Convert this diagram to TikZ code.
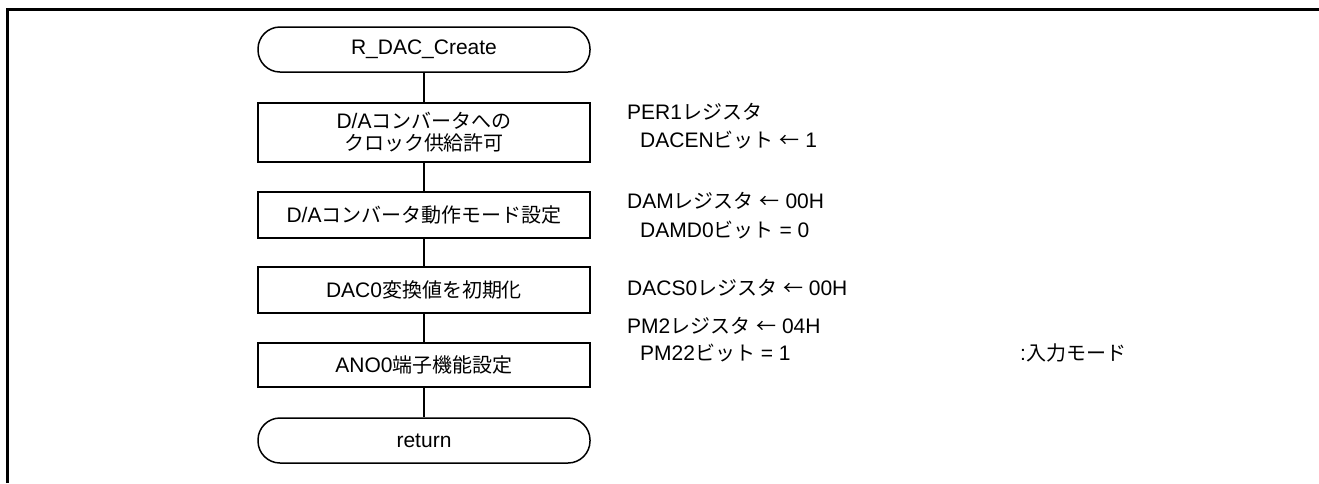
\documentclass[tikz,border=0pt]{standalone}
\usepackage{fontspec}
\setmainfont{Liberation Sans}
\newfontfamily\jpfont[Scale=0.952]{Noto Sans CJK JP}
\newcommand\J[1]{{\jpfont #1}}
\begin{document}
\begin{tikzpicture}[x=1pt,y=-1pt,
  proc/.style={draw, line width=1.5pt, minimum width=332pt, inner sep=0pt, align=center, font=\fontsize{21}{22}\selectfont},
  term/.style={proc, rounded corners=22pt},
  note/.style={anchor=base west, inner sep=0pt, font=\fontsize{21}{24}\selectfont},
  link/.style={line width=1.2pt},
  frame/.style={line width=3pt}]
\useasboundingbox (0,0) rectangle (1319,483);
\draw[frame] (7,483) -- (7,9) -- (1319,9);

\node[term, minimum height=45pt] (start) at (424,49.5) {R\_DAC\_Create};
\node[proc, minimum height=59pt] (p1) at (424,132.5) {D/A\J{コンバータへの}\\\J{クロック供給許可}};
\node[proc, minimum height=46pt] (p2) at (424,215) {D/A\J{コンバータ動作モード設定}};
\node[proc, minimum height=46pt] (p3) at (424,290) {DAC0\J{変換値を初期化}};
\node[proc, minimum height=44pt] (p4) at (424,365) {ANO0\J{端子機能設定}};
\node[term, minimum height=45pt] (ret) at (424,440.5) {return};

\draw[link] (start) -- (p1);
\draw[link] (p1) -- (p2);
\draw[link] (p2) -- (p3);
\draw[link] (p3) -- (p4);
\draw[link] (p4) -- (ret);

\node[note] (n1a) at (627,119) {PER1\J{レジスタ}};
\node[note] (n1b) at (640,147) {DACEN\J{ビット} \J{←} 1};
\node[note] (n2a) at (627,208) {DAM\J{レジスタ} \J{←} 00H};
\node[note] (n2b) at (640,237) {DAMD0\J{ビット} = 0};
\node[note] (n3a) at (627,295) {DACS0\J{レジスタ} \J{←} 00H};
\node[note] (n4a) at (627,333) {PM2\J{レジスタ} \J{←} 04H};
\node[note] (n4b) at (640,360) {PM22\J{ビット} = 1};
\node[note] (n4c) at (1020,360) {:\J{入力モード}};
\end{tikzpicture}
\end{document}
